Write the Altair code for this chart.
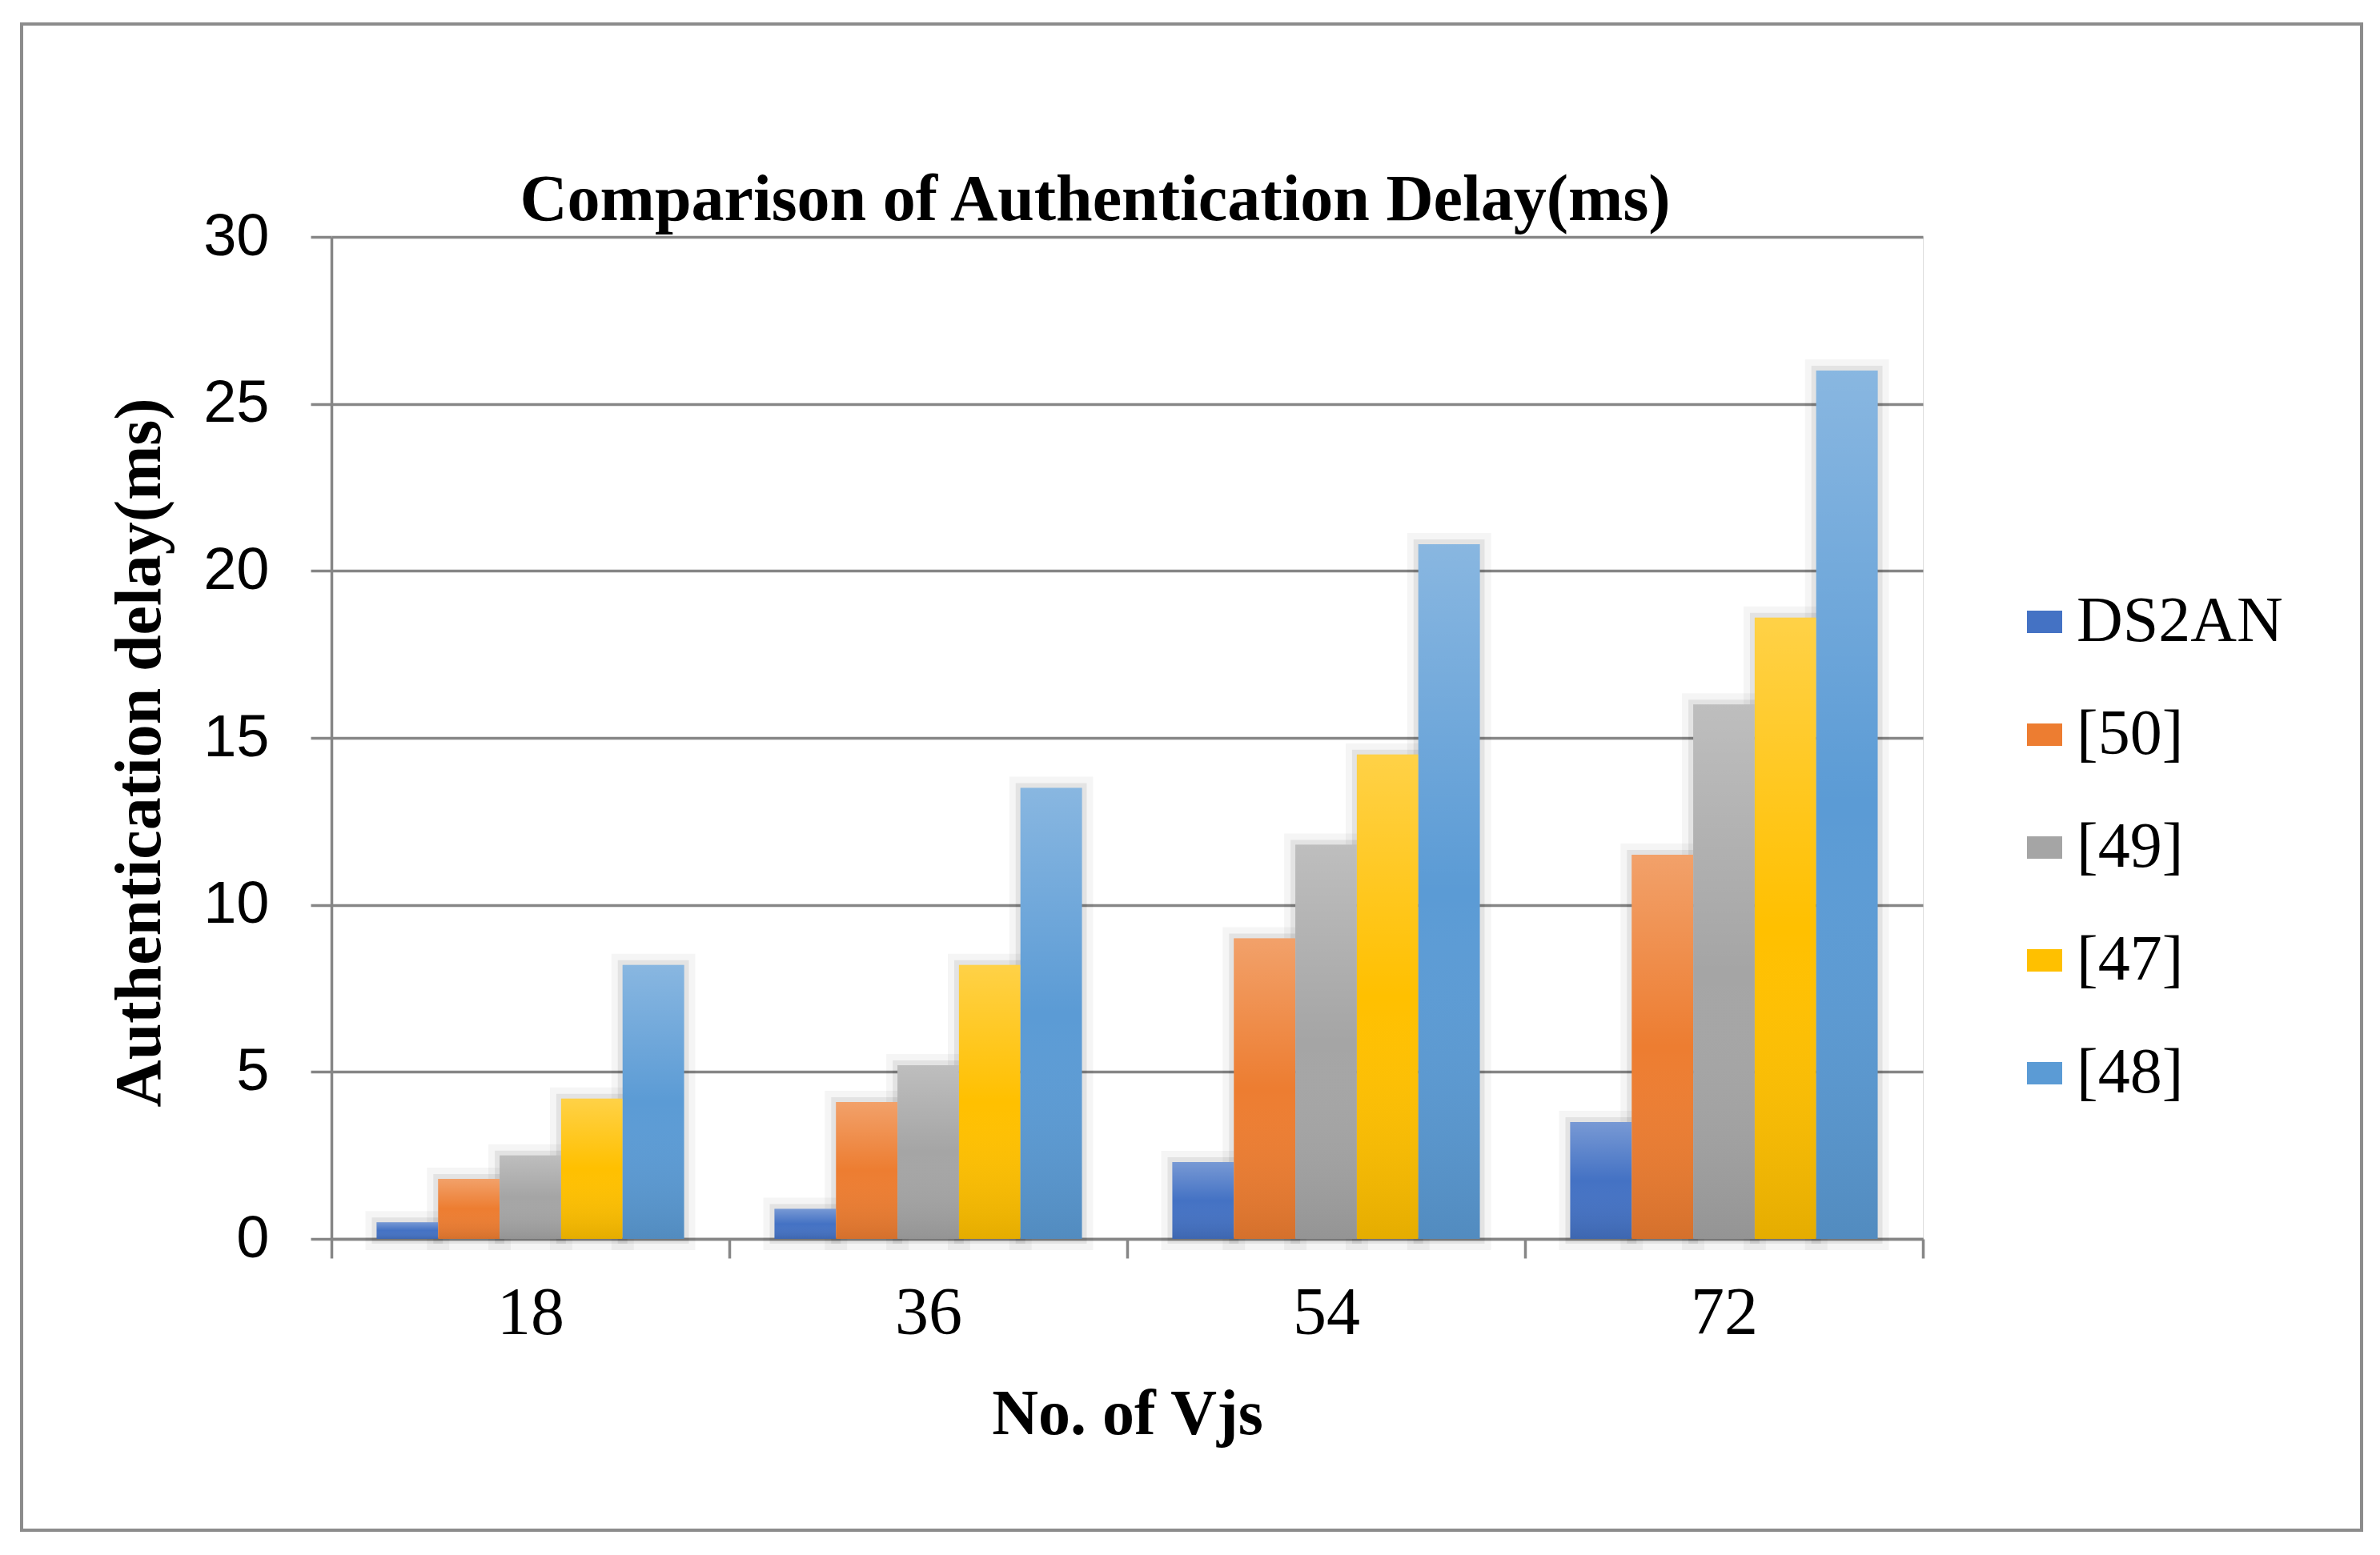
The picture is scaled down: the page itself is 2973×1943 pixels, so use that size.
import altair as alt
import pandas as pd

# ---- data ----
groups = ["18", "36", "54", "72"]
series = ["DS2AN", "[50]", "[49]", "[47]", "[48]"]
ds2an = [0.5, 0.9, 2.3, 3.5]
ref50 = [1.8, 4.1, 9.0, 11.5]
ref49 = [2.5, 5.2, 11.8, 16.0]
ref47 = [4.2, 8.2, 14.5, 18.6]
ref48 = [8.2, 13.5, 20.8, 26.0]
colors = ["#4472C4", "#ED7D31", "#A5A5A5", "#FFC000", "#5B9BD5"]
chart_title = "Comparison of Authentication Delay(ms)"

values = [ds2an, ref50, ref49, ref47, ref48]
rows = []
for s, vals in zip(series, values):
    for g, v in zip(groups, vals):
        rows.append({"Vjs": g, "Scheme": s, "Delay": v})
df = pd.DataFrame(rows)

W, H = 1988, 1252
GRID = "#868686"

x_enc = alt.X("Vjs:N", sort=groups,
              scale=alt.Scale(paddingInner=0, paddingOuter=0),
              axis=alt.Axis(title="No. of Vjs", labelAngle=0, tickBand="extent",
                            labelFont="Liberation Serif", labelFontSize=84,
                            labelColor="black", labelPadding=28,
                            tickSize=24, tickWidth=3.5, tickColor=GRID,
                            domainColor=GRID, domainWidth=3.5, grid=False,
                            titleFont="Liberation Serif", titleFontSize=80,
                            titleFontWeight="bold", titleColor="black",
                            titleX=994, titleY=219, titleBaseline="middle"))
y_enc = alt.Y("Delay:Q", scale=alt.Scale(domain=[0, 30], nice=False),
              axis=alt.Axis(title="Authentication delay(ms)", values=[0, 5, 10, 15, 20, 25, 30],
                            labelFont="Liberation Sans", labelFontSize=74,
                            labelColor="black", labelPadding=52,
                            tickSize=26, tickWidth=3.5, tickColor=GRID,
                            domainColor=GRID, domainWidth=3.5,
                            grid=True, gridColor=GRID, gridWidth=3.5,
                            titleFont="Liberation Serif", titleFontSize=82,
                            titleFontWeight="bold", titleColor="black",
                            titleX=-240, titleY=644, titleBaseline="middle",
                            titleAngle=270))
xoff = alt.XOffset("Scheme:N", sort=series,
                   scale=alt.Scale(paddingInner=0, paddingOuter=0.735))

base = alt.Chart(df).encode(x=x_enc, y=y_enc, xOffset=xoff)

halo1 = base.mark_bar(fillOpacity=0, stroke="#000000", strokeOpacity=0.04, strokeWidth=28)
halo2 = base.mark_bar(fillOpacity=0, stroke="#000000", strokeOpacity=0.07, strokeWidth=12)

bars = base.mark_bar().encode(
    color=alt.Color("Scheme:N", sort=series,
                    scale=alt.Scale(domain=series, range=colors),
                    legend=alt.Legend(title=None, orient="none",
                                      legendX=2100, legendY=441,
                                      labelFont="Liberation Serif", labelFontSize=80,
                                      labelColor="black", labelOffset=0, labelLimit=1000,
                                      symbolType="M-1,-0.636H1V0.636H-1Z",
                                      symbolSize=1936, symbolStrokeWidth=0,
                                      symbolOpacity=1, rowPadding=61, padding=0))
)

shade = base.mark_bar(
    fill=alt.LinearGradient(
        gradient="linear", x1=0, x2=0, y1=0, y2=1,
        stops=[alt.GradientStop(offset=0, color="rgba(255,255,255,0.28)"),
               alt.GradientStop(offset=0.5, color="rgba(255,255,255,0)"),
               alt.GradientStop(offset=1, color="rgba(0,0,0,0.1)")]))

one = alt.Data(values=[{"t": chart_title}])

frame = alt.Chart(one).mark_rect(
    fillOpacity=0, stroke="#8C8C8C", strokeWidth=4, clip=False
).encode(x=alt.value(-387), x2=alt.value(2536), y=alt.value(-266), y2=alt.value(1616))

title_txt = alt.Chart(one).mark_text(
    font="Liberation Serif", fontSize=82, fontWeight="bold", color="black",
    align="center", baseline="alphabetic", clip=False
).encode(text="t:N", x=alt.value(954), y=alt.value(-21))

chart = alt.layer(frame, halo1, halo2, bars, shade, title_txt).properties(
    width=W, height=H,
    autosize=alt.AutoSizeParams(type="none"),
    padding={"left": 406, "top": 288, "right": 550, "bottom": 367},
).configure_view(stroke=None).configure(background="white")

chart.save("out.html", embed_options={"renderer": "svg", "actions": False})
